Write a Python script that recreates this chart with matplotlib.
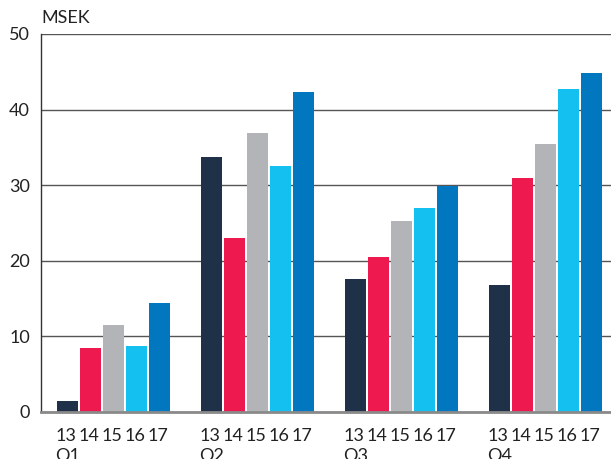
import numpy as np
import matplotlib
matplotlib.use("Agg")
from matplotlib import pyplot as plt
import matplotlib.transforms as mtransforms

# data
quarters = ["Q1", "Q2", "Q3", "Q4"]
years = ["13", "14", "15", "16", "17"]
q1 = [1.5, 8.5, 11.5, 8.7, 14.4]
q2 = [33.7, 23.0, 36.9, 32.5, 42.3]
q3 = [17.6, 20.5, 25.3, 27.0, 29.9]
q4 = [16.8, 31.0, 35.4, 42.7, 44.8]
colors = ["#1f3049", "#ee1a4f", "#b3b4b8", "#14c0f0", "#0077be"]

plt.rcParams["font.family"] = ["Lato", "DejaVu Sans"]

fig = plt.figure(figsize=(6.11, 4.59), dpi=100)
ax = fig.add_axes([41 / 611, 1 - 412 / 459, 1 - 41 / 611, 378 / 459])

values = np.array([q1, q2, q3, q4])
bw = 21 / 144
step = 23 / 144
grp = np.arange(len(quarters))

for i, yr in enumerate(years):
    x = grp + (i - 2) * step
    ax.bar(x, values[:, i], width=bw, color=colors[i], zorder=3)

ax.set_xlim(-72.5 / 144, 497.5 / 144)
ax.set_ylim(0, 50)
ax.set_yticks([0, 10, 20, 30, 40, 50])
ax.grid(axis="y", color="#555555", linewidth=1.0, zorder=0)
ax.tick_params(axis="y", length=0, pad=8, labelsize=13, labelcolor="#222222")
ax.set_xticks([])

for s in ["top", "right"]:
    ax.spines[s].set_visible(False)
ax.spines["left"].set_color("#333333")
ax.spines["left"].set_linewidth(1.0)
ax.spines["bottom"].set_color("#8a8a8a")
ax.spines["bottom"].set_linewidth(2.0)
ax.spines["bottom"].set_zorder(4)

trans = mtransforms.blended_transform_factory(ax.transData, ax.transAxes)
for g, q in enumerate(quarters):
    for i, yr in enumerate(years):
        ax.text(g + (i - 2) * step - 2 / 144, -0.064, yr, transform=trans,
                ha="center", va="center", fontsize=13, color="#222222")
    ax.text(g - 2 * step - 12 / 144, -0.095, q, transform=trans,
            ha="left", va="top", fontsize=13, color="#222222")

fig.text(41 / 611, 1 - 18 / 459, "MSEK", ha="left", va="center",
         fontsize=13, color="#222222")

fig.savefig("out.png", dpi=100)
